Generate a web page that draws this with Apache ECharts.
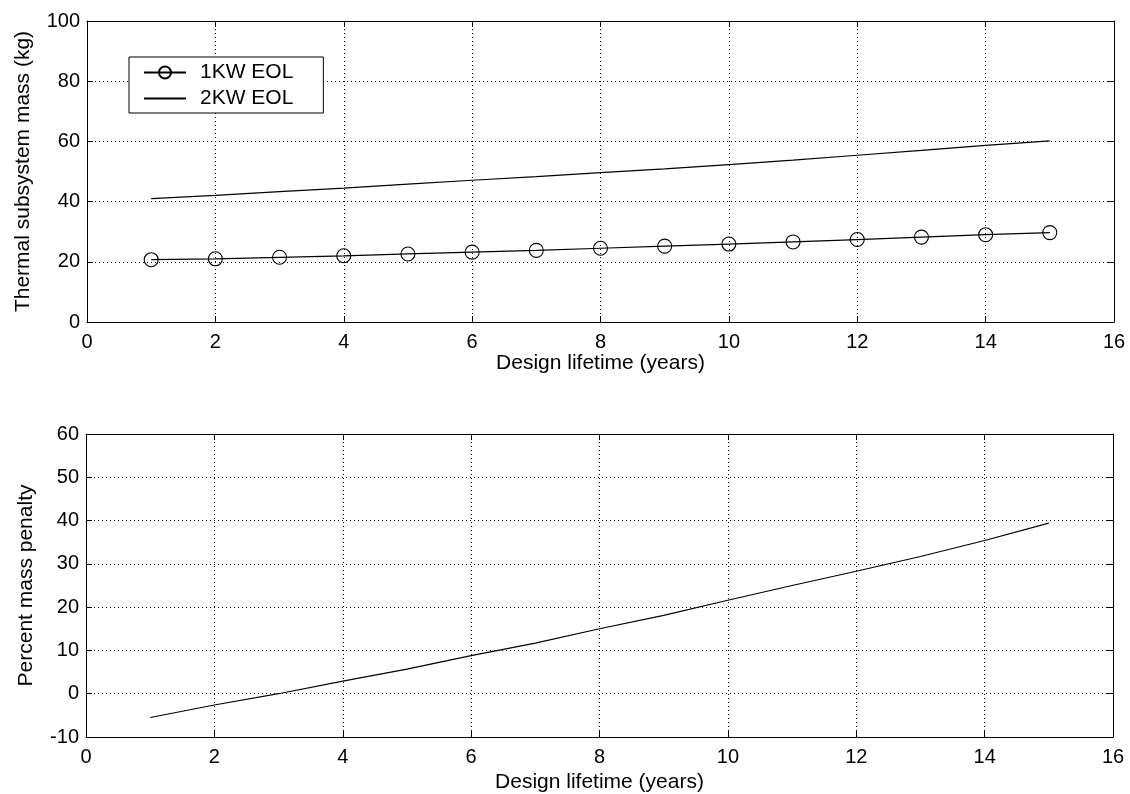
<!DOCTYPE html>
<html>
<head>
<meta charset="utf-8">
<script src="https://cdn.jsdelivr.net/npm/echarts@6/dist/echarts.min.js"></script>
<style>
html,body{margin:0;padding:0;background:#fff;}
#chart{width:1130px;height:794px;}
</style>
</head>
<body>
<div id="chart"></div>
<script>
// ---- data ----
const years = [1,2,3,4,5,6,7,8,9,10,11,12,13,14,15];
const mass1kW = [20.7,21.0,21.5,22.0,22.6,23.2,23.8,24.5,25.2,25.9,26.6,27.4,28.2,29.0,29.7];
const mass2kW = [41.0,42.1,43.3,44.5,45.8,47.1,48.3,49.6,50.9,52.3,53.8,55.4,57.0,58.7,60.2];
const penalty = [-5.5,-2.6,0.0,2.9,5.7,8.8,11.7,15.0,18.1,21.6,25.0,28.3,31.7,35.4,39.4];
const seriesNames = ['1KW EOL','2KW EOL'];
const xLabel = 'Design lifetime (years)';
const yLabelTop = 'Thermal subsystem mass (kg)';
const yLabelBottom = 'Percent mass penalty';

const pairs = (xs, ys) => xs.map((x, i) => [x, ys[i]]);
const FONT = 'Liberation Sans, Arial, sans-serif';
const tickFont = {fontFamily: FONT, fontSize: 20, color: '#000'};
const nameFont = {fontFamily: FONT, fontSize: 21, color: '#000'};
const axisLine = {show: true, onZero: false, lineStyle: {color: '#000', width: 1}};
const tick = {show: true, inside: true, length: 6, lineStyle: {color: '#000', width: 1}};
const dotted = {show: true, lineStyle: {color: '#000', width: 1, type: [1, 3]}};

function mainX(grid, gap) {
  return {type: 'value', gridIndex: grid, min: 0, max: 16, interval: 2, position: 'bottom',
    axisLine, axisTick: tick, splitLine: dotted,
    axisLabel: Object.assign({margin: 10}, tickFont),
    name: xLabel, nameLocation: 'middle', nameGap: gap, nameTextStyle: nameFont};
}
function topX(grid) {
  return {type: 'value', gridIndex: grid, min: 0, max: 16, interval: 2, position: 'top',
    axisLine, axisTick: tick, splitLine: {show: false}, axisLabel: {show: false}};
}
function mainY(grid, min, max, interval, name, gap) {
  return {type: 'value', gridIndex: grid, min, max, interval, position: 'left',
    axisLine, axisTick: tick, splitLine: dotted,
    axisLabel: Object.assign({margin: 7}, tickFont),
    name, nameLocation: 'middle', nameGap: gap, nameTextStyle: nameFont};
}
function rightY(grid, min, max, interval) {
  return {type: 'value', gridIndex: grid, min, max, interval, position: 'right',
    axisLine, axisTick: tick, splitLine: {show: false}, axisLabel: {show: false}};
}

const option = {
  backgroundColor: '#fff',
  animation: false,
  grid: [
    {left: 87, top: 21, width: 1027, height: 301, outerBoundsMode: 'none'},
    {left: 86, top: 434, width: 1027, height: 303, outerBoundsMode: 'none'}
  ],
  xAxis: [mainX(0, 27), topX(0), mainX(1, 35), topX(1)],
  yAxis: [
    mainY(0, 0, 100, 20, yLabelTop, 53), rightY(0, 0, 100, 20),
    mainY(1, -10, 60, 10, yLabelBottom, 49), rightY(1, -10, 60, 10)
  ],
  legend: {
    data: [{name: seriesNames[0]}, {name: seriesNames[1], itemStyle: {opacity: 0}}],
    orient: 'vertical',
    left: 129, top: 57,
    backgroundColor: '#fff',
    borderColor: '#000', borderWidth: 1, borderRadius: 0,
    padding: [5, 30, 4, 14],
    itemWidth: 42, itemHeight: 15, itemGap: 5,
    textStyle: {fontFamily: FONT, fontSize: 21, color: '#000', padding: [0, 0, 0, 9]},
    selectedMode: false
  },
  series: [
    {name: seriesNames[0], type: 'line', xAxisIndex: 0, yAxisIndex: 0,
      data: pairs(years, mass1kW), symbol: 'circle', symbolSize: 14, showAllSymbol: true,
      color: '#000',
      lineStyle: {color: '#000', width: 1.2},
      itemStyle: {color: 'rgba(0,0,0,0)', borderColor: '#000', borderWidth: 1.1}},
    {name: seriesNames[1], type: 'line', xAxisIndex: 0, yAxisIndex: 0,
      data: pairs(years, mass2kW), symbol: 'none', color: '#000',
      lineStyle: {color: '#000', width: 1.2}},
    {name: 'penalty', type: 'line', xAxisIndex: 2, yAxisIndex: 2,
      data: pairs(years, penalty), symbol: 'none', color: '#000',
      lineStyle: {color: '#000', width: 1.2}}
  ]
};
const chart = echarts.init(document.getElementById('chart'), null, {renderer: 'canvas'});
chart.setOption(option);
</script>
</body>
</html>
